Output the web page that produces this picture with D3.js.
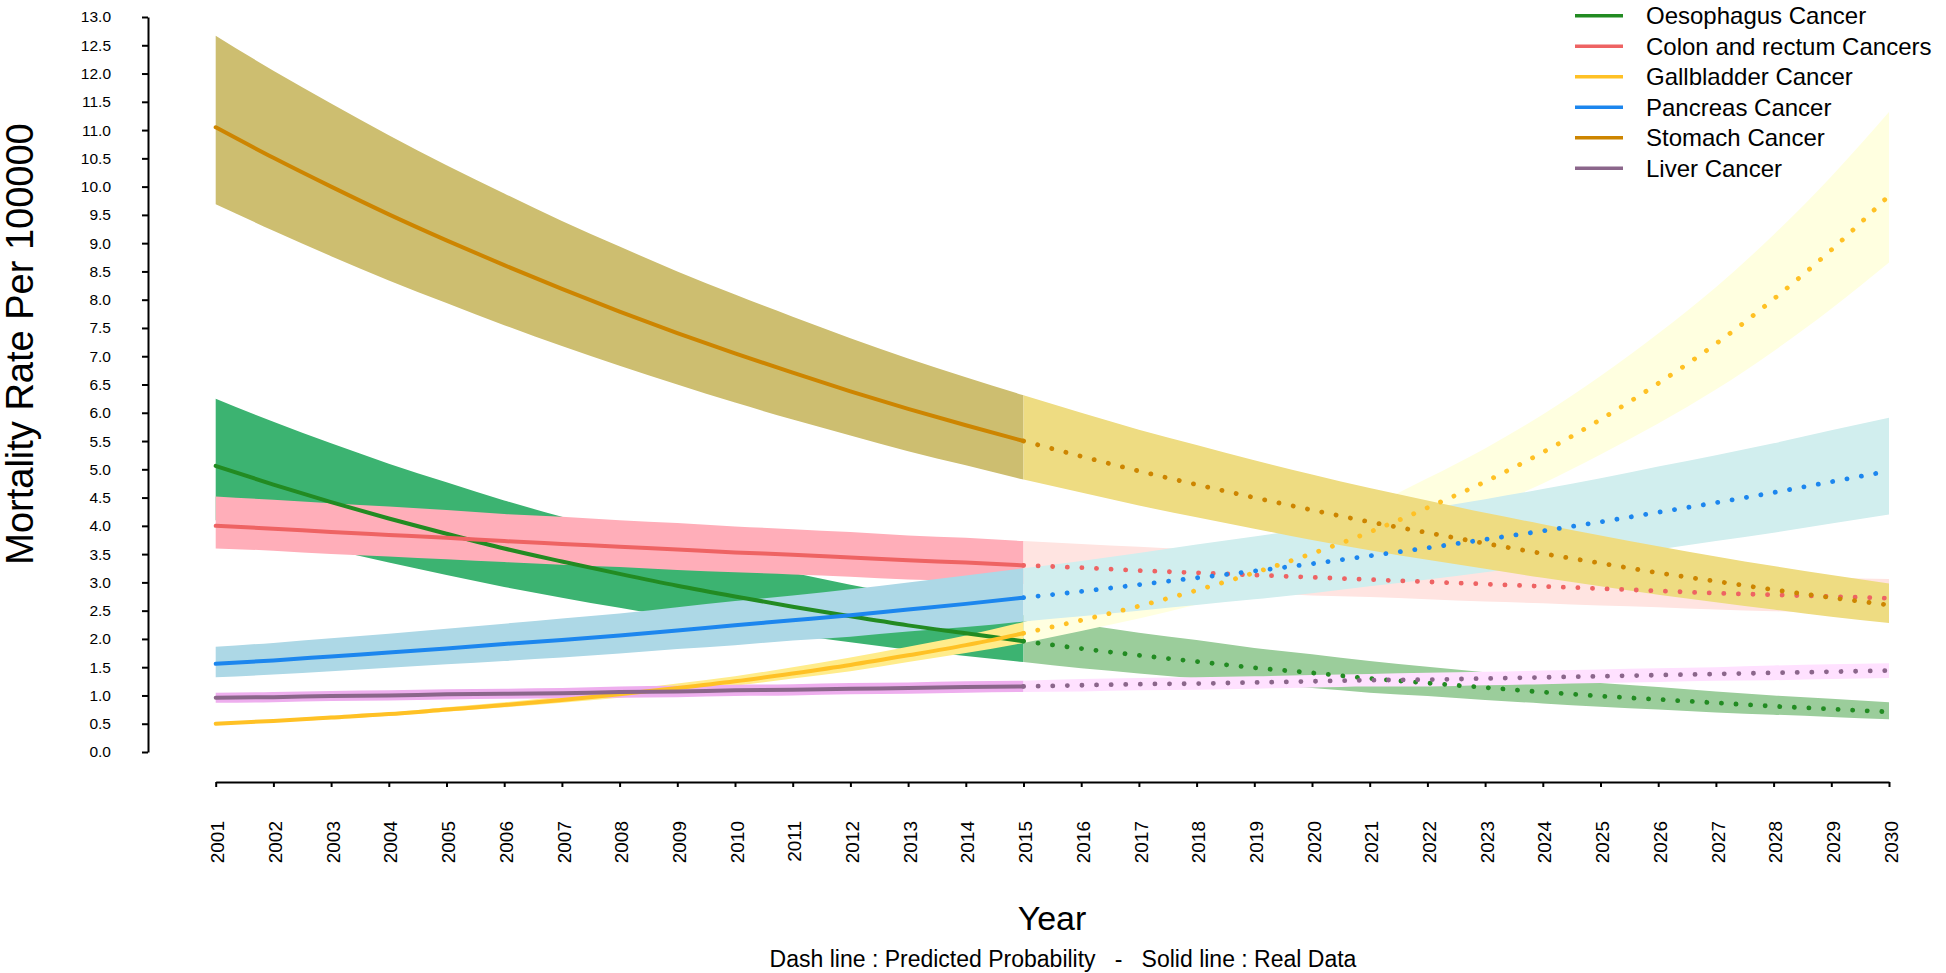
<!DOCTYPE html>
<html>
<head>
<meta charset="utf-8">
<script src="https://cdn.jsdelivr.net/npm/d3@7"></script>
<style>
  html, body { margin: 0; padding: 0; background: #ffffff; }
  svg { display: block; font-family: "Liberation Sans", Arial, Helvetica, sans-serif; }
</style>
</head>
<body>
<svg id="chart" width="1946" height="973"></svg>
<script>
// ---------------- DATA ----------------
const years = [2001,2002,2003,2004,2005,2006,2007,2008,2009,2010,2011,2012,2013,2014,2015,
               2016,2017,2018,2019,2020,2021,2022,2023,2024,2025,2026,2027,2028,2029,2030];
const lastRealYear = 2015;

const seriesNames = ["Oesophagus Cancer","Colon and rectum Cancers","Gallbladder Cancer",
                     "Pancreas Cancer","Stomach Cancer","Liver Cancer"];

const oesoMean = [5.06,4.73,4.42,4.13,3.86,3.60,3.37,3.15,2.94,2.75,2.57,2.40,2.24,2.10,1.96,
                  1.83,1.71,1.60,1.49,1.40,1.30,1.22,1.14,1.06,0.99,0.93,0.87,0.81,0.76,0.71];
const oesoHigh = [6.25,5.84,5.46,5.10,4.77,4.45,4.16,3.89,3.63,3.40,3.17,2.96,2.77,2.59,2.42,
                  2.26,2.11,1.98,1.84,1.73,1.61,1.51,1.41,1.31,1.22,1.15,1.07,1.00,0.94,0.88];
const oesoLow  = [4.10,3.83,3.58,3.35,3.13,2.92,2.73,2.55,2.38,2.23,2.08,1.94,1.81,1.70,1.59,
                  1.48,1.39,1.30,1.21,1.13,1.05,0.99,0.92,0.86,0.80,0.75,0.70,0.66,0.62,0.58];

const colonMean = [4.00,3.95,3.89,3.84,3.79,3.73,3.68,3.63,3.58,3.53,3.49,3.44,3.39,3.35,3.30,
                   3.26,3.21,3.17,3.13,3.09,3.05,3.01,2.97,2.93,2.89,2.85,2.81,2.78,2.75,2.72];
const colonHigh = [4.52,4.46,4.40,4.34,4.28,4.21,4.16,4.10,4.05,3.99,3.94,3.89,3.83,3.79,3.73,
                   3.68,3.63,3.58,3.53,3.48,3.44,3.39,3.34,3.30,3.25,3.21,3.16,3.12,3.08,3.06];
const colonLow  = [3.60,3.56,3.50,3.46,3.41,3.36,3.31,3.27,3.22,3.18,3.14,3.10,3.05,3.02,2.97,
                   2.93,2.89,2.85,2.81,2.77,2.74,2.70,2.66,2.63,2.59,2.56,2.52,2.49,2.46,2.44];

const gallMean = [0.50,0.55,0.61,0.67,0.75,0.83,0.92,1.02,1.13,1.25,1.39,1.54,1.71,1.89,2.10,
                  2.33,2.58,2.86,3.17,3.51,3.89,4.32,4.78,5.30,5.88,6.52,7.22,8.01,8.88,9.84];
const gallHigh = [0.52,0.57,0.64,0.70,0.79,0.88,0.98,1.09,1.21,1.34,1.50,1.67,1.86,2.06,2.30,
                  2.56,2.84,3.16,3.51,3.90,4.34,4.84,5.37,5.97,6.65,7.40,8.22,9.15,10.18,11.32];
const gallLow  = [0.48,0.53,0.58,0.64,0.71,0.79,0.87,0.96,1.06,1.17,1.30,1.43,1.59,1.75,1.93,
                  2.14,2.36,2.61,2.89,3.19,3.52,3.90,4.30,4.75,5.26,5.81,6.41,7.09,7.84,8.66];

const pancMean = [1.56,1.62,1.69,1.76,1.83,1.91,1.98,2.06,2.15,2.24,2.33,2.42,2.52,2.62,2.73,
                  2.84,2.96,3.08,3.20,3.33,3.47,3.61,3.76,3.91,4.07,4.24,4.41,4.59,4.78,4.97];
const pancHigh = [1.86,1.93,2.01,2.09,2.18,2.27,2.36,2.45,2.56,2.67,2.77,2.88,3.00,3.12,3.25,
                  3.38,3.52,3.67,3.81,3.96,4.13,4.30,4.47,4.65,4.84,5.05,5.25,5.46,5.69,5.91];
const pancLow  = [1.32,1.37,1.43,1.49,1.55,1.61,1.67,1.74,1.82,1.89,1.97,2.04,2.13,2.21,2.31,
                  2.40,2.50,2.60,2.70,2.81,2.93,3.05,3.18,3.30,3.44,3.58,3.73,3.88,4.04,4.20];

const stomMean = [11.05,10.51,10.00,9.51,9.05,8.61,8.19,7.79,7.41,7.05,6.71,6.38,6.07,5.78,5.50,
                  5.23,4.97,4.73,4.50,4.28,4.07,3.88,3.69,3.51,3.34,3.17,3.02,2.87,2.73,2.60];
const stomHigh = [12.67,12.05,11.47,10.91,10.38,9.88,9.39,8.94,8.50,8.09,7.70,7.32,6.96,6.63,6.31,
                  6.00,5.70,5.43,5.16,4.91,4.67,4.45,4.23,4.03,3.83,3.64,3.46,3.29,3.13,2.98];
const stomLow  = [9.69,9.22,8.77,8.34,7.94,7.55,7.18,6.83,6.50,6.18,5.88,5.60,5.32,5.07,4.82,
                  4.59,4.36,4.15,3.95,3.75,3.57,3.40,3.24,3.08,2.93,2.78,2.65,2.52,2.39,2.28];

const liverMean = [0.96,0.97,0.99,1.00,1.02,1.03,1.04,1.06,1.07,1.09,1.10,1.12,1.13,1.15,1.16,
                   1.18,1.20,1.21,1.23,1.25,1.27,1.28,1.30,1.32,1.34,1.36,1.38,1.40,1.42,1.44];
const liverHigh = [1.05,1.06,1.08,1.09,1.11,1.12,1.13,1.16,1.17,1.19,1.20,1.22,1.23,1.25,1.26,
                   1.29,1.31,1.32,1.34,1.36,1.38,1.40,1.42,1.44,1.46,1.48,1.50,1.53,1.55,1.57];
const liverLow  = [0.87,0.88,0.90,0.91,0.93,0.94,0.95,0.96,0.97,0.99,1.00,1.02,1.03,1.05,1.06,
                   1.07,1.09,1.10,1.12,1.14,1.16,1.16,1.18,1.20,1.22,1.24,1.26,1.27,1.29,1.31];

const yTicks = [0,0.5,1,1.5,2,2.5,3,3.5,4,4.5,5,5.5,6,6.5,7,7.5,8,8.5,9,9.5,10,10.5,11,11.5,12,12.5,13];

// colours (line, real-data band, predicted band)
const lineColors = ["#228B22","#EE6363","#FFC125","#1C86EE","#CD8500","#8B668B"];
const realBandColors = ["#3CB371","#FFAEB9","#FFEC8B","#ADD8E6","#CDBE70","#EEAEEE"];
const predBandColors = ["#9BCD9B","#FFE4E1","#FFFFE0","#D1EEEE","#EEDC82","#FFE1FF"];

const means = [oesoMean, colonMean, gallMean, pancMean, stomMean, liverMean];
const highs = [oesoHigh, colonHigh, gallHigh, pancHigh, stomHigh, liverHigh];
const lows  = [oesoLow,  colonLow,  gallLow,  pancLow,  stomLow,  liverLow];

// ---------------- CHART ----------------
const svg = d3.select("#chart");
svg.append("rect").attr("width",1946).attr("height",973).attr("fill","#fff");

const x = d3.scaleLinear().domain([2001, 2030]).range([215.7, 1889]);
const y = d3.scaleLinear().domain([0, 13]).range([752, 17]);

const series = seriesNames.map((name, i) => ({
  name,
  pts: years.map((yr, j) => ({year: yr, m: means[i][j], lo: lows[i][j], hi: highs[i][j]}))
}));

const area = d3.area().x(d => x(d.year)).y0(d => y(d.lo)).y1(d => y(d.hi)).curve(d3.curveMonotoneX);
const line = d3.line().x(d => x(d.year)).y(d => y(d.m)).curve(d3.curveMonotoneX);

const bands = svg.append("g");
series.forEach((s, i) => {
  const real = s.pts.filter(d => d.year <= lastRealYear);
  const pred = s.pts.filter(d => d.year >= lastRealYear);
  bands.append("path").attr("d", area(real)).attr("fill", realBandColors[i]);
  bands.append("path").attr("d", area(pred)).attr("fill", predBandColors[i]);
});

const lines = svg.append("g");
series.forEach((s, i) => {
  const real = s.pts.filter(d => d.year <= lastRealYear);
  const pred = s.pts.filter(d => d.year >= lastRealYear);
  lines.append("path").attr("d", line(real)).attr("fill","none")
    .attr("stroke", lineColors[i]).attr("stroke-width", 4).attr("stroke-linecap","round");
  lines.append("path").attr("d", line(pred)).attr("fill","none")
    .attr("stroke", lineColors[i]).attr("stroke-width", 4.8)
    .attr("stroke-linecap","round").attr("stroke-dasharray","0.1 14.5");
});

// axes
const yAxis = svg.append("g").attr("transform","translate(148,0)")
  .call(d3.axisLeft(y).tickValues(yTicks).tickFormat(d3.format(".1f")).tickSize(6).tickSizeOuter(0).tickPadding(31));
yAxis.select(".domain").attr("stroke","#000").attr("stroke-width",2);
yAxis.selectAll(".tick line").attr("stroke","#000").attr("stroke-width",2);
yAxis.selectAll(".tick text").attr("font-size",15.5).attr("fill","#000")
  .attr("font-family","'Liberation Sans', Arial, sans-serif");

const xAxis = svg.append("g").attr("transform","translate(0,782)")
  .call(d3.axisBottom(x).tickValues(years).tickFormat(d3.format("d")).tickSize(5).tickSizeOuter(0));
xAxis.select(".domain").attr("stroke","#000").attr("stroke-width",2);
xAxis.selectAll(".tick line").attr("stroke","#000").attr("stroke-width",2);
xAxis.selectAll(".tick text")
  .attr("transform","rotate(-90)")
  .attr("x",-39).attr("y",1.5).attr("dy","0.35em")
  .attr("text-anchor","end")
  .attr("font-size",19).attr("fill","#000")
  .attr("font-family","'Liberation Sans', Arial, sans-serif");

// titles
svg.append("text").attr("transform","translate(33,344) rotate(-90)")
  .attr("text-anchor","middle").attr("font-size",38).attr("fill","#000")
  .text("Mortality Rate Per 100000");
svg.append("text").attr("x",1052).attr("y",930).attr("text-anchor","middle")
  .attr("font-size",34).attr("fill","#000").text("Year");
svg.append("text").attr("x",1063).attr("y",967).attr("text-anchor","middle")
  .attr("font-size",23).attr("fill","#000")
  .attr("xml:space","preserve").style("white-space","pre")
  .text("Dash line : Predicted Probability   -   Solid line : Real Data");

// legend
const legend = svg.append("g");
seriesNames.forEach((name, i) => {
  const cy = 15.7 + i * 30.5;
  legend.append("line").attr("x1",1575).attr("x2",1623).attr("y1",cy).attr("y2",cy)
    .attr("stroke", lineColors[i]).attr("stroke-width",3.5);
  legend.append("text").attr("x",1646).attr("y",cy).attr("dy","0.35em")
    .attr("font-size",24).attr("fill","#000").text(name);
});
</script>
</body>
</html>
